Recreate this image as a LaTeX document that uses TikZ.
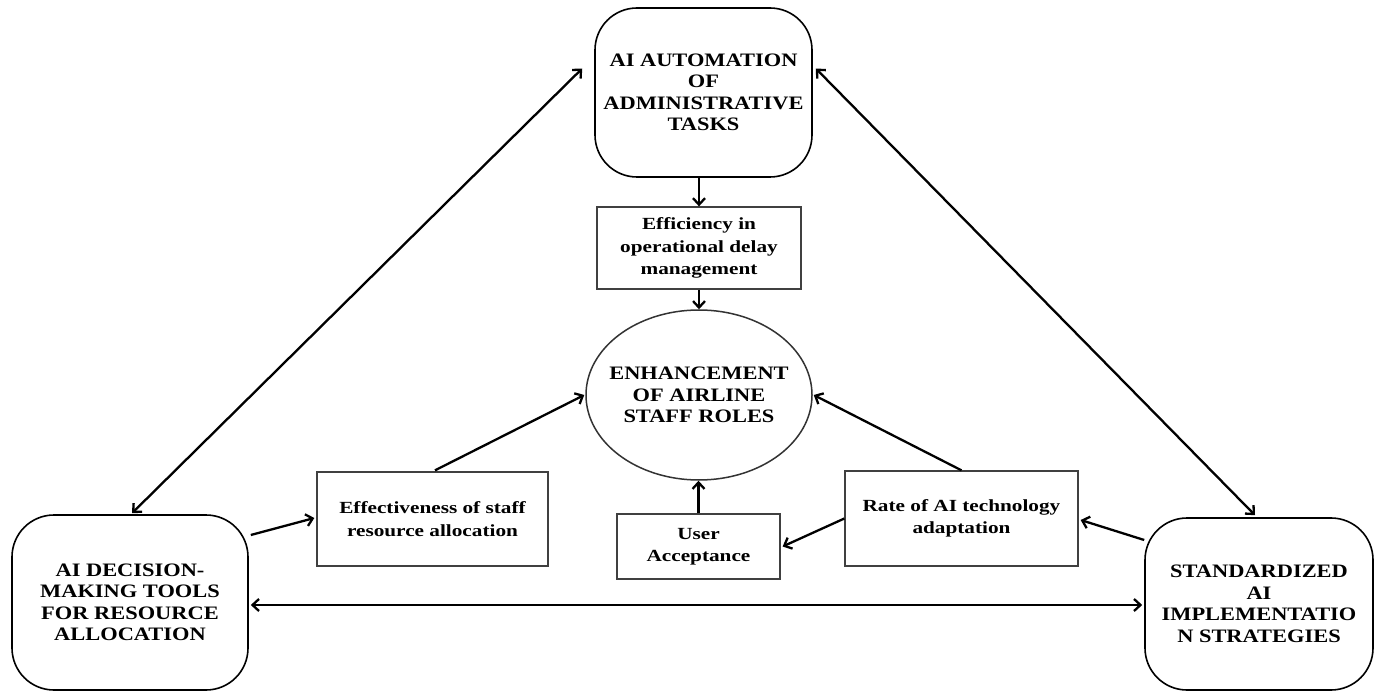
\documentclass[tikz,border=0pt]{standalone}
\usepackage{fontspec}
\setmainfont{Liberation Serif}
\newfontfamily\bigfam[FakeStretch=1.18]{Liberation Serif}
\newfontfamily\smallfam[FakeStretch=1.25]{Liberation Serif}
\usetikzlibrary{arrows.meta,shapes.geometric,calc}
\begin{document}
\begin{tikzpicture}[x=1pt,y=-1pt,
  bigbox/.style={draw,line width=1.6pt,rounded corners=42pt,inner sep=0pt,align=center,
     font=\bigfam\fontsize{19}{21.5}\selectfont\bfseries},
  smallbox/.style={draw=black!75,line width=1.3pt,inner sep=0pt,align=center,
     font=\smallfam\fontsize{17}{22.5}\selectfont\bfseries},
  oval/.style={draw=black!80,line width=1.5pt,ellipse,inner ysep=0pt,inner xsep=-22pt,align=center,
     font=\bigfam\fontsize{19}{21.5}\selectfont\bfseries},
  arr/.style={line width=2.3pt,-{Straight Barb[length=6.5pt,width=12pt,line width=2.3pt]}},
  darr/.style={line width=2.3pt,{Straight Barb[length=6.5pt,width=12pt,line width=2.3pt]}-{Straight Barb[length=6.5pt,width=12pt,line width=2.3pt]}}
]
\useasboundingbox (0,0) rectangle (1379,692);
\fill[white] (0,0) rectangle (1379,692);

\node[bigbox,minimum width=217pt,minimum height=169pt] (top) at (703.5,92.5)
  {AI AUTOMATION\\OF\\ADMINISTRATIVE\\TASKS};
\node[smallbox,minimum width=204pt,minimum height=82pt] (eff) at (699,248)
  {Efficiency in\\operational delay\\management};
\node[oval,minimum width=226pt,minimum height=170pt] (enh) at (699,395)
  {ENHANCEMENT\\OF AIRLINE\\STAFF ROLES};
\node[smallbox,minimum width=231pt,minimum height=94pt] (effv) at (432.5,519)
  {Effectiveness of staff\\resource allocation};
\node[smallbox,minimum width=163pt,minimum height=65pt] (user) at (698.5,546.5)
  {User\\Acceptance};
\node[smallbox,minimum width=233pt,minimum height=95pt] (rate) at (961.5,518.5)
  {Rate of AI technology\\adaptation};
\node[bigbox,minimum width=236pt,minimum height=175pt] (left) at (130,602.5)
  {AI DECISION-\\MAKING TOOLS\\FOR RESOURCE\\ALLOCATION};
\node[bigbox,minimum width=228pt,minimum height=172pt] (right) at (1259,604)
  {STANDARDIZED\\AI\\IMPLEMENTATIO\\N STRATEGIES};

\draw[darr] ($(top.west)+(-12,-24)$) -- ($(left.north)+(2,-1)$);
\draw[darr] ($(top.east)+(3,-24)$) -- ($(right.north)+(-4,-2)$);
\draw[darr] ($(left.east)+(2,2.5)$) -- ($(right.west)+(-2,1)$);
\draw[arr] ($(left.east)+(2,-67.5)$) -- ($(effv.west)+(-2,-1)$);
\draw[arr] ($(effv.north)+(2.5,-1)$) -- ($(enh.west)+(-1,0)$);
\draw[arr] (eff.north |- top.south) -- (eff.north);
\draw[arr] (eff.south) -- (enh.north);
\draw[arr] (user.north) -- (user.north |- enh.south);
\draw[arr] (rate.north) -- ($(enh.east)+(1,0)$);
\draw[arr] (rate.west) -- ($(user.east)+(2,0)$);
\draw[arr] ($(right.west)+(0,-64)$) -- ($(rate.east)+(2,1.5)$);
\end{tikzpicture}
\end{document}
